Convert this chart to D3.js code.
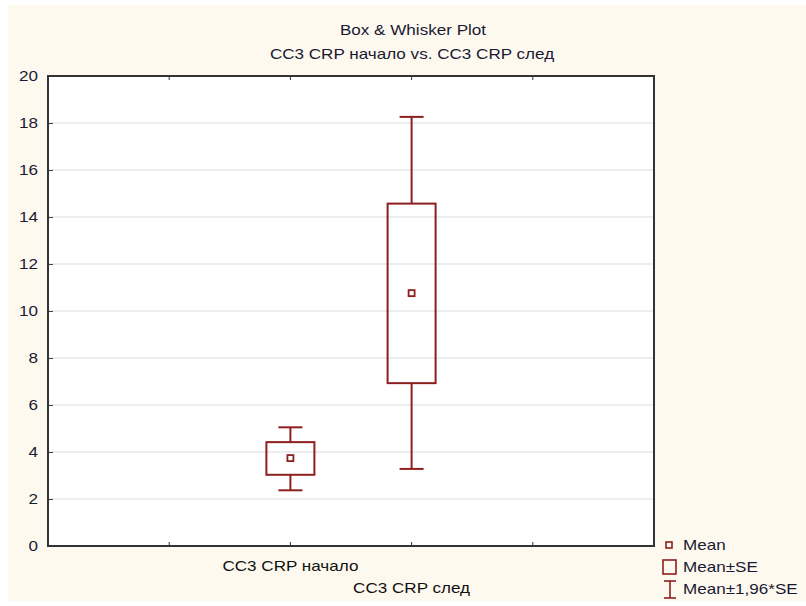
<!DOCTYPE html>
<html>
<head>
<meta charset="utf-8">
<script src="https://cdn.jsdelivr.net/npm/d3@7"></script>
<style>
  body { margin: 0; background: #fff; }
  text { font-family: Arial, "Liberation Sans", sans-serif; }
</style>
</head>
<body>
<svg id="chart" width="806" height="606"></svg>
<script>
// categories and their positions on the x axis
const categories = ["CC3 CRP начало", "CC3 CRP след"];
const positions = [1, 2];
// values
const means = [3.74, 10.76];
const seLow = [3.03, 6.93];
const seHigh = [4.42, 14.57];
const ciLow = [2.37, 3.28];
const ciHigh = [5.05, 18.26];
const yTicks = [0, 2, 4, 6, 8, 10, 12, 14, 16, 18, 20];
const legendLabels = ["Mean", "Mean±SE", "Mean±1,96*SE"];

const col = "#8e1f1f";
const textCol = "#1a1a33";
const stretch = 1.22;   // text in the original is drawn wide

const svg = d3.select("#chart");

// text placed at (x,y), widened horizontally around its anchor
function wideText(sel, x, y, anchor, str) {
  return sel.append("text")
    .attr("transform", `translate(${x},${y}) scale(${stretch},1)`)
    .attr("text-anchor", anchor)
    .attr("fill", textCol)
    .style("font-size", "14px")
    .text(str);
}

svg.append("rect")
  .attr("x", 8).attr("y", 5).attr("width", 798).attr("height", 596)
  .attr("fill", "#fef9ef");

const pLeft = 48, pRight = 654, pTop = 76, pBottom = 546;

const x = d3.scaleLinear().domain([-1, 4]).range([pLeft, pRight]);
const y = d3.scaleLinear().domain([0, 20]).range([pBottom, pTop]);

svg.append("rect")
  .attr("x", pLeft).attr("y", pTop)
  .attr("width", pRight - pLeft).attr("height", pBottom - pTop)
  .attr("fill", "#fff");

// horizontal grid
svg.append("g")
  .selectAll("line")
  .data(yTicks.filter(d => d > 0 && d < 20))
  .join("line")
  .attr("x1", pLeft).attr("x2", pRight)
  .attr("y1", d => y(d)).attr("y2", d => y(d))
  .attr("stroke", "#dcdcdc").attr("stroke-width", 1.2);

// y axis
const yAxis = svg.append("g")
  .attr("transform", `translate(${pLeft},0)`)
  .call(d3.axisLeft(y).tickValues(yTicks).tickSize(-5).tickPadding(10));
yAxis.select(".domain").remove();
yAxis.selectAll("line").attr("stroke", "#444");
yAxis.selectAll("text")
  .attr("fill", textCol)
  .style("font-size", "14px")
  .style("font-family", "Arial, 'Liberation Sans', sans-serif")
  .attr("x", null).attr("dy", "0.34em")
  .attr("transform", `translate(-10,0) scale(${stretch},1)`);

// x ticks top and bottom
const xTicks = [0, 1, 2, 3];
svg.append("g").selectAll("line").data(xTicks).join("line")
  .attr("x1", d => x(d)).attr("x2", d => x(d))
  .attr("y1", pTop).attr("y2", pTop + 4).attr("stroke", "#333");
svg.append("g").selectAll("line").data(xTicks).join("line")
  .attr("x1", d => x(d)).attr("x2", d => x(d))
  .attr("y1", pBottom).attr("y2", pBottom - 4).attr("stroke", "#333");

// frame
svg.append("rect")
  .attr("x", pLeft).attr("y", pTop)
  .attr("width", pRight - pLeft).attr("height", pBottom - pTop)
  .attr("fill", "none").attr("stroke", "#333").attr("stroke-width", 2);

// category labels (staggered)
const catG = svg.append("g");
categories.forEach((c, i) => {
  wideText(catG, x(positions[i]), i === 0 ? 571 : 593, "middle", c).attr("fill", "#111");
});

// boxes
const boxW = 48, capW = 24;
const g = svg.append("g").attr("fill", "none").attr("stroke", col).attr("stroke-width", 2);
categories.forEach((c, i) => {
  const cx = x(positions[i]);
  g.append("line").attr("x1", cx).attr("x2", cx).attr("y1", y(ciHigh[i])).attr("y2", y(seHigh[i]));
  g.append("line").attr("x1", cx).attr("x2", cx).attr("y1", y(seLow[i])).attr("y2", y(ciLow[i]));
  g.append("line").attr("x1", cx - capW / 2).attr("x2", cx + capW / 2).attr("y1", y(ciHigh[i])).attr("y2", y(ciHigh[i]));
  g.append("line").attr("x1", cx - capW / 2).attr("x2", cx + capW / 2).attr("y1", y(ciLow[i])).attr("y2", y(ciLow[i]));
  g.append("rect").attr("x", cx - boxW / 2).attr("y", y(seHigh[i]))
    .attr("width", boxW).attr("height", y(seLow[i]) - y(seHigh[i]));
  g.append("rect").attr("x", cx - 3).attr("y", y(means[i]) - 3)
    .attr("width", 6).attr("height", 6).attr("stroke-width", 1.8);
});

// titles
wideText(svg, 413, 35, "middle", "Box & Whisker Plot");
wideText(svg, 412, 59, "middle", "CC3 CRP начало vs. CC3 CRP след");

// legend
const lg = svg.append("g");
const ly = [545, 567, 589];
lg.append("rect").attr("x", 666).attr("y", ly[0] - 3).attr("width", 6).attr("height", 6)
  .attr("fill", "none").attr("stroke", col).attr("stroke-width", 1.6);
lg.append("rect").attr("x", 663).attr("y", ly[1] - 7).attr("width", 13).attr("height", 14)
  .attr("fill", "none").attr("stroke", col).attr("stroke-width", 1.6);
lg.append("line").attr("x1", 670).attr("x2", 670).attr("y1", ly[2] - 8).attr("y2", ly[2] + 9)
  .attr("stroke", col).attr("stroke-width", 1.6);
lg.append("line").attr("x1", 664).attr("x2", 676).attr("y1", ly[2] - 8).attr("y2", ly[2] - 8)
  .attr("stroke", col).attr("stroke-width", 1.6);
lg.append("line").attr("x1", 664).attr("x2", 676).attr("y1", ly[2] + 9).attr("y2", ly[2] + 9)
  .attr("stroke", col).attr("stroke-width", 1.6);
legendLabels.forEach((t, i) => wideText(lg, 683, ly[i] + 5, "start", t));
</script>
</body>
</html>
